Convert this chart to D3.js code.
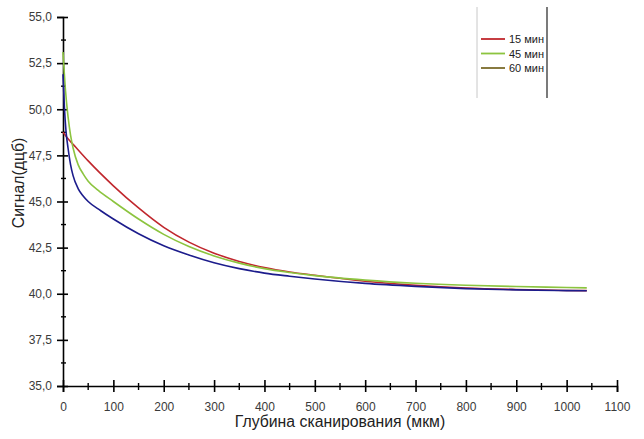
<!DOCTYPE html>
<html><head><meta charset="utf-8">
<script src="https://cdn.jsdelivr.net/npm/d3@7"></script>
<style>body{margin:0;background:#fff}svg{display:block;font-family:"Liberation Sans",Arial,sans-serif}</style>
</head><body><svg id="c" width="644" height="439"></svg>
<script>
const xTicks = [0,100,200,300,400,500,600,700,800,900,1000,1100];
const yTicks = [35,37.5,40,42.5,45,47.5,50,52.5,55];
const seriesNames = ["15 мин","45 мин","60 мин"];
const lineColors = ["#c0272d","#8cc43f","#1c1c8c"];
const legendColors = ["#c0272d","#8cc43f","#7b6b2b"];
const xRed = [0,10,25,50,100,150,200,250,300,350,400,450,500,600,700,800,900,1000,1040];
const yRed = [48.75,48.4,47.95,47.2,45.85,44.65,43.6,42.8,42.2,41.75,41.42,41.18,41.0,40.68,40.46,40.31,40.23,40.18,40.17];
const xGreen = [0,5,10,15,20,30,40,50,70,100,150,200,250,300,350,400,450,500,600,700,800,900,1000,1040];
const yGreen = [53.1,51.0,49.6,48.6,47.9,47.0,46.5,46.1,45.6,45.0,44.05,43.22,42.56,42.05,41.66,41.36,41.15,40.98,40.74,40.57,40.46,40.39,40.34,40.32];
const xBlue = [0,3,6,10,15,20,30,40,50,75,100,150,200,250,300,350,400,450,500,600,700,800,900,1000,1040];
const yBlue = [51.9,50.0,48.8,47.9,47.0,46.4,45.7,45.3,45.0,44.5,44.05,43.25,42.6,42.1,41.68,41.36,41.12,40.95,40.8,40.56,40.4,40.28,40.21,40.17,40.16];

const svg = d3.select("#c");
const x = d3.scaleLinear().domain([0,1100]).range([63,617]);
const y = d3.scaleLinear().domain([35,55]).range([386,17]);
const fmt = d => d3.format(".1f")(d).replace(".", ",");

// y axis
const ya = svg.append("g").attr("transform","translate(63,0)")
  .call(d3.axisLeft(y).tickValues(yTicks).tickFormat(fmt).tickSize(6).tickPadding(5));
ya.select(".domain").attr("stroke","#000").attr("stroke-width",1.6);
ya.selectAll(".tick line").attr("stroke","#000").attr("stroke-width",1.6).attr("x2",-6).attr("x1",5);
ya.selectAll(".tick text").attr("font-size",12).attr("fill","#3a3a3a").attr("x",-11);
const yMinor = d3.range(36.25,55,2.5);
svg.append("g").selectAll("line").data(yMinor).join("line")
  .attr("x1",61).attr("x2",66).attr("y1",d=>y(d)).attr("y2",d=>y(d)).attr("stroke","#000").attr("stroke-width",1.4);

// x axis
const xa = svg.append("g").attr("transform","translate(0,386)")
  .call(d3.axisBottom(x).tickValues(xTicks).tickFormat(d3.format("d")).tickSize(6).tickPadding(10));
xa.select(".domain").attr("stroke","#000").attr("stroke-width",1.6);
xa.selectAll(".tick line").attr("stroke","#000").attr("stroke-width",1.6).attr("y1",-6).attr("y2",6);
xa.selectAll(".tick text").attr("font-size",12).attr("fill","#3a3a3a");
const xMinor = d3.range(50,1100,100);
svg.append("g").selectAll("line").data(xMinor).join("line")
  .attr("x1",d=>x(d)).attr("x2",d=>x(d)).attr("y1",383).attr("y2",390).attr("stroke","#000").attr("stroke-width",1.4);

// titles
svg.append("text").attr("x",340).attr("y",427).attr("text-anchor","middle").attr("font-size",15.8).attr("fill","#222").text("Глубина сканирования (мкм)");
svg.append("text").attr("transform","translate(24,183) rotate(-90)").attr("text-anchor","middle").attr("font-size",15.8).attr("fill","#222").text("Сигнал(дцб)");

// lines
const line = d3.line().x(d=>x(d[0])).y(d=>y(d[1])).curve(d3.curveMonotoneX);
const data = [
  d3.zip(xRed,yRed),
  d3.zip(xGreen,yGreen),
  d3.zip(xBlue,yBlue)
];
const order = [0,1,2];
svg.append("g").selectAll("path").data(order).join("path")
  .attr("d",i=>line(data[i])).attr("fill","none").attr("stroke",i=>lineColors[i]).attr("stroke-width",1.6);

// legend
svg.append("line").attr("x1",477).attr("x2",477).attr("y1",7).attr("y2",98).attr("stroke","#c8c8c8").attr("stroke-width",1);
svg.append("line").attr("x1",547).attr("x2",547).attr("y1",7).attr("y2",98).attr("stroke","#222").attr("stroke-width",1.2);
const lg = svg.append("g").selectAll("g").data(seriesNames).join("g")
  .attr("transform",(d,i)=>`translate(0,${39+i*14.5})`);
lg.append("line").attr("x1",481).attr("x2",505).attr("stroke",(d,i)=>legendColors[i]).attr("stroke-width",1.8);
lg.append("text").attr("x",509).attr("y",4).attr("font-size",11).attr("fill","#222").text(d=>d);
</script></body></html>
